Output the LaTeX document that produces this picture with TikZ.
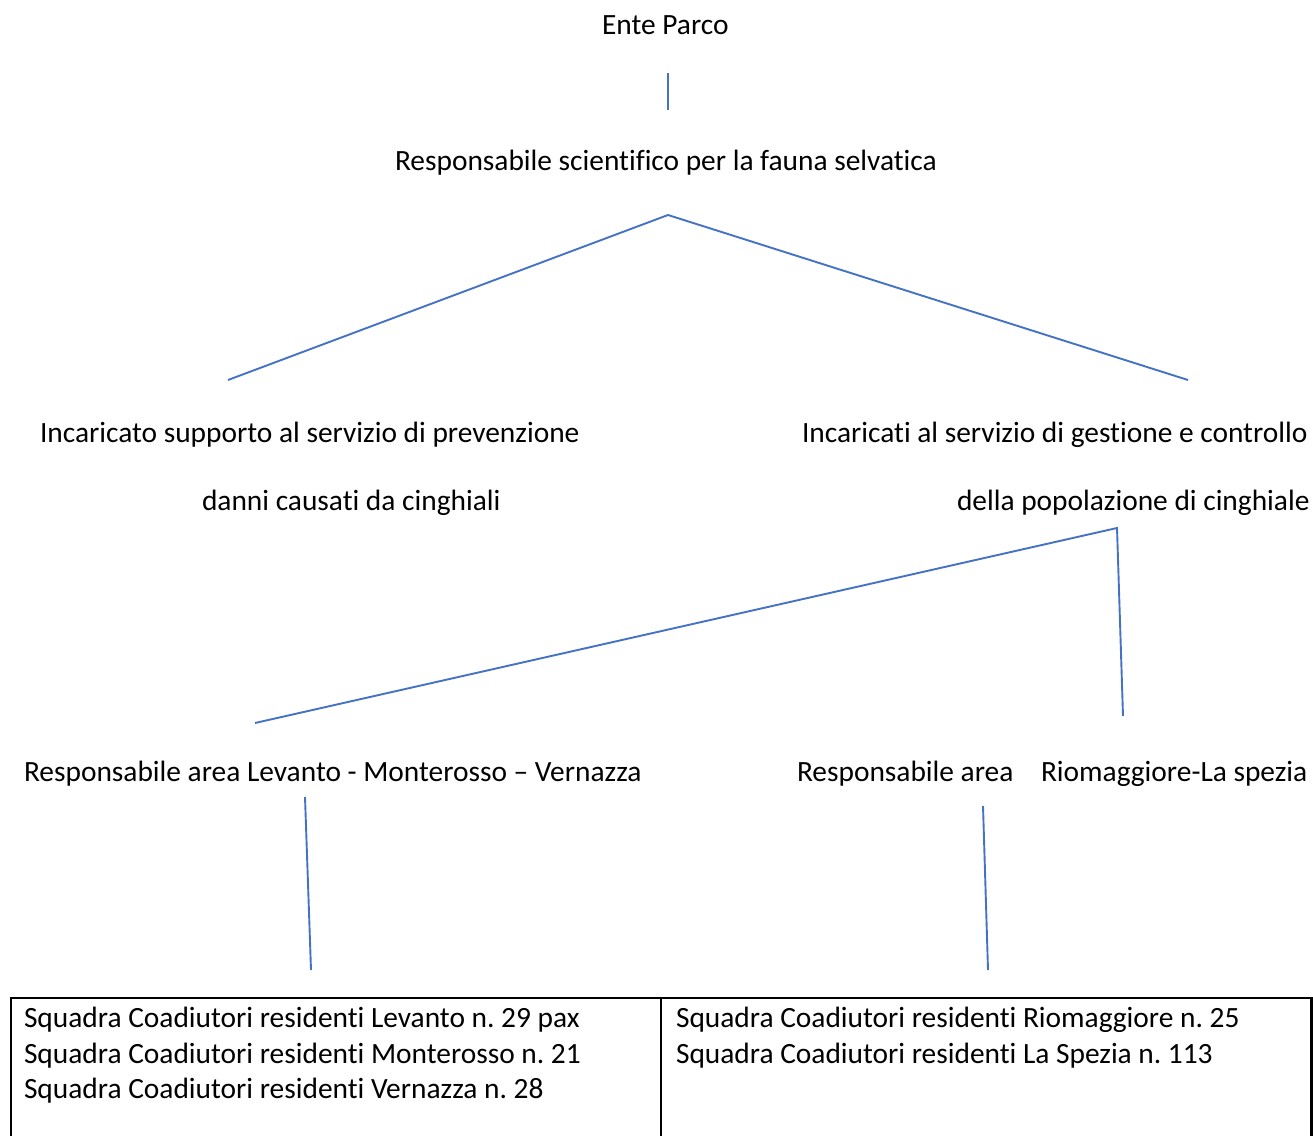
\documentclass[tikz,border=0pt]{standalone}
\usepackage{fontspec}
\setmainfont{Carlito}[Ligatures=NoCommon]
\frenchspacing
\definecolor{linkblue}{HTML}{4472C4}
\begin{document}
\begin{tikzpicture}[x=1pt,y=-1pt,
  lbl/.style={anchor=base west,inner sep=0pt,outer sep=0pt,font=\fontsize{29.4}{35}\selectfont},
  conn/.style={draw=linkblue,line width=1.9pt},
  tbl/.style={draw=black,line width=2.2pt}]
\useasboundingbox (0,0) rectangle (1313,1135);
% texts
\node[lbl] (ente) at (602,34) {Ente Parco};
\node[lbl] (resp) at (395,170) {Responsabile scientifico per la fauna selvatica};
\node[lbl] (inc1) at (40,442) {Incaricato supporto al servizio di prevenzione};
\node[lbl] (inc1b) at (202,510) {danni causati da cinghiali};
\node[lbl] (inc2) at (802,442) {Incaricati al servizio di gestione e controllo};
\node[lbl] (inc2b) at (957,510) {della popolazione di cinghiale};
\node[lbl] (ra1) at (24,781) {Responsabile area Levanto - Monterosso – Vernazza};
\node[lbl] (ra2) at (797,781) {Responsabile area};
\node[lbl] (ra2b) at (1041,781) {Riomaggiore-La spezia};
% connector ends
\coordinate (c1a) at (668,73); \coordinate (c1b) at (668,110);
\coordinate (c2) at (668,215); \coordinate (c2l) at (228,380); \coordinate (c2r) at (1188,380);
\coordinate (c3) at (1117,528); \coordinate (c3l) at (255,723); \coordinate (c3r) at (1123,716);
\coordinate (c4a) at (305,797); \coordinate (c4b) at (311,970);
\coordinate (c5a) at (983,806); \coordinate (c5b) at (988,970);
\draw[conn] (c1a) -- (c1b);
\draw[conn] (c2l) -- (c2) -- (c2r);
\draw[conn] (c3l) -- (c3) -- (c3r);
\draw[conn] (c4a) -- (c4b);
\draw[conn] (c5a) -- (c5b);
% table
\coordinate (tl) at (11,998); \coordinate (tm) at (661,998); \coordinate (tr) at (1311.5,998);
\draw[tbl] (11,1140) -- (tl) -- (tr) -- (1311.5,1140);
\draw[tbl] (tm) -- (661,1140);
\node[lbl] (s1) at (24,1027) {Squadra Coadiutori residenti Levanto n. 29 pax};
\node[lbl] (s2) at (24,1063) {Squadra Coadiutori residenti Monterosso n. 21};
\node[lbl] (s3) at (24,1098) {Squadra Coadiutori residenti Vernazza n. 28};
\node[lbl] (s4) at (676,1027) {Squadra Coadiutori residenti Riomaggiore n. 25};
\node[lbl] (s5) at (676,1063) {Squadra Coadiutori residenti La Spezia n. 113};
\end{tikzpicture}
\end{document}
